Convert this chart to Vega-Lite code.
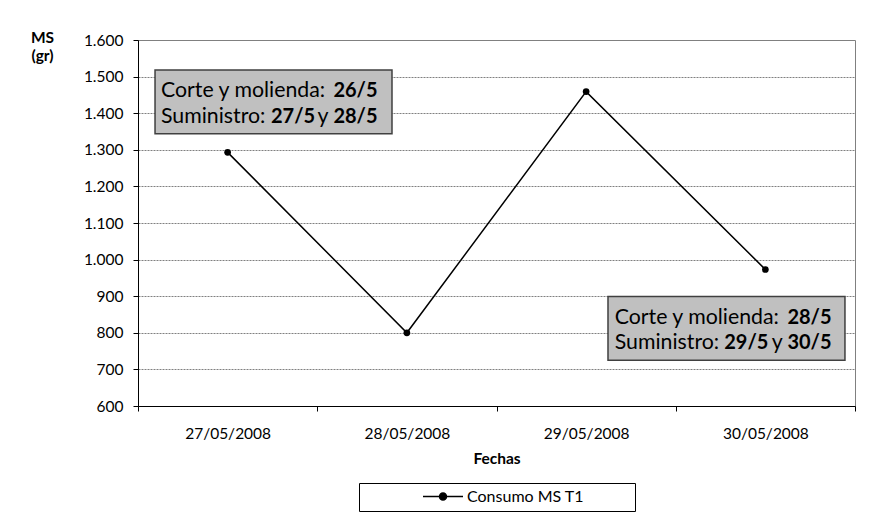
{
  "$schema": "https://vega.github.io/schema/vega-lite/v6.json",
  "width": 717,
  "height": 366,
  "autosize": {"type": "none"},
  "padding": {"left": 138, "top": 40, "right": 35, "bottom": 115},
  "background": "white",
  "config": {
    "font": "Lato",
    "view": {"stroke": "#808080", "strokeWidth": 1},
    "axis": {"labelFont": "Lato", "titleFont": "Lato", "labelColor": "#000000", "titleColor": "#000000", "domainColor": "#000000", "tickColor": "#000000", "labelFontSize": 15.5}
  },
  "datasets": {
    "consumo": [
      {"fecha": "27/05/2008", "ms": 1293, "serie": "Consumo MS T1"},
      {"fecha": "28/05/2008", "ms": 800, "serie": "Consumo MS T1"},
      {"fecha": "29/05/2008", "ms": 1459, "serie": "Consumo MS T1"},
      {"fecha": "30/05/2008", "ms": 973, "serie": "Consumo MS T1"}
    ],
    "cajas": [
      {"caja": 1, "desde": "27/05/2008", "hasta": "28/05/2008", "arriba": 1518, "abajo": 1344},
      {"caja": 2, "desde": "29/05/2008", "hasta": "30/05/2008", "arriba": 899, "abajo": 725}
    ],
    "textos": [
      {"caja": 1, "fecha": "27/05/2008", "ms": 1445, "parte": "etiqueta", "texto": "Corte y molienda:"},
      {"caja": 1, "fecha": "27/05/2008", "ms": 1445, "parte": "fin", "texto": "26/5"},
      {"caja": 1, "fecha": "27/05/2008", "ms": 1374, "parte": "etiqueta", "texto": "Suministro:"},
      {"caja": 1, "fecha": "27/05/2008", "ms": 1374, "parte": "inicio", "texto": "27/5"},
      {"caja": 1, "fecha": "27/05/2008", "ms": 1374, "parte": "y", "texto": "y"},
      {"caja": 1, "fecha": "27/05/2008", "ms": 1374, "parte": "fin", "texto": "28/5"},
      {"caja": 2, "fecha": "30/05/2008", "ms": 823, "parte": "etiqueta", "texto": "Corte y molienda:"},
      {"caja": 2, "fecha": "30/05/2008", "ms": 823, "parte": "fin", "texto": "28/5"},
      {"caja": 2, "fecha": "30/05/2008", "ms": 755, "parte": "etiqueta", "texto": "Suministro:"},
      {"caja": 2, "fecha": "30/05/2008", "ms": 755, "parte": "inicio", "texto": "29/5"},
      {"caja": 2, "fecha": "30/05/2008", "ms": 755, "parte": "y", "texto": "y"},
      {"caja": 2, "fecha": "30/05/2008", "ms": 755, "parte": "fin", "texto": "30/5"}
    ]
  },
  "layer": [
    {
      "data": {"name": "consumo"},
      "mark": {"type": "line", "color": "#000000", "strokeWidth": 1.5, "point": {"filled": true, "size": 45, "color": "#000000"}},
      "encoding": {
        "x": {
          "field": "fecha", "type": "nominal", "bandPosition": 0.5, "title": "Fechas",
          "scale": {"type": "band", "domain": ["27/05/2008", "28/05/2008", "29/05/2008", "30/05/2008"], "paddingInner": 0, "paddingOuter": 0},
          "axis": {"tickBand": "extent", "labelAngle": 0, "labelPadding": 22, "labelBaseline": "middle", "tickSize": 5, "grid": false, "titleFontSize": 15.5, "titleFontWeight": "bold", "titleY": 57, "titleBaseline": "alphabetic"}
        },
        "y": {
          "field": "ms", "type": "quantitative", "title": ["MS", "(gr)"],
          "scale": {"domain": [600, 1600], "nice": false, "zero": false},
          "axis": {"tickCount": 10, "labelOverlap": false, "labelExpr": "replace(format(datum.value, ',d'), ',', '.')", "tickSize": 5, "labelPadding": 10, "grid": true, "gridColor": "#808080", "gridDash": [2, 1], "titleAngle": 0, "titleX": -96, "titleY": 2, "titleAlign": "center", "titleBaseline": "alphabetic", "titleFontSize": 15.5, "titleFontWeight": "bold", "titleLineHeight": 18}
        },
        "color": {
          "field": "serie", "type": "nominal", "scale": {"range": ["#000000"]},
          "legend": {"title": "\u00a0", "titleOrient": "right", "titlePadding": 45, "titleFontSize": 16, "orient": "none", "legendX": 221, "legendY": 443, "direction": "horizontal", "strokeColor": "#000000", "fillColor": "white", "padding": 6, "clipHeight": 15, "symbolType": "M-1,0L1,0M0.175,0A0.175,0.175,0,1,1,-0.175,0A0.175,0.175,0,1,1,0.175,0Z", "symbolSize": 1600, "symbolStrokeWidth": 1.5, "symbolStrokeColor": "#000000", "symbolFillColor": "#000000", "symbolOffset": 57, "labelFontSize": 16, "labelFont": "Lato", "labelColor": "#000000", "labelOffset": 3, "labelLimit": 400}
        }
      }
    },
    {
      "data": {"name": "cajas"},
      "transform": [{"filter": "datum.caja == 1"}],
      "mark": {"type": "rect", "fill": "#c0c0c0", "stroke": "#404040", "strokeWidth": 1.5},
      "encoding": {
        "x": {"field": "desde", "type": "nominal", "bandPosition": 0.095, "title": "Fechas"},
        "x2": {"field": "hasta", "bandPosition": 0.417},
        "y": {"field": "arriba", "type": "quantitative", "title": ["MS", "(gr)"]},
        "y2": {"field": "abajo"}
      }
    },
    {
      "data": {"name": "cajas"},
      "transform": [{"filter": "datum.caja == 2"}],
      "mark": {"type": "rect", "fill": "#c0c0c0", "stroke": "#404040", "strokeWidth": 1.5},
      "encoding": {
        "x": {"field": "desde", "type": "nominal", "bandPosition": 0.622, "title": "Fechas"},
        "x2": {"field": "hasta", "bandPosition": 0.944},
        "y": {"field": "arriba", "type": "quantitative", "title": ["MS", "(gr)"]},
        "y2": {"field": "abajo"}
      }
    },
    {
      "data": {"name": "textos"},
      "transform": [{"filter": "datum.caja == 1 && datum.parte == 'etiqueta'"}],
      "mark": {"type": "text", "align": "left", "baseline": "alphabetic", "dx": 23, "fontSize": 21.3, "font": "Lato", "color": "#000000"},
      "encoding": {"x": {"field": "fecha", "type": "nominal", "bandPosition": 0, "title": "Fechas"}, "y": {"field": "ms", "type": "quantitative", "title": ["MS", "(gr)"]}, "text": {"field": "texto"}}
    },
    {
      "data": {"name": "textos"},
      "transform": [{"filter": "datum.caja == 1 && datum.parte == 'fin'"}],
      "mark": {"type": "text", "align": "right", "baseline": "alphabetic", "dx": 239.5, "fontSize": 20, "fontWeight": "bold", "font": "Lato", "color": "#000000"},
      "encoding": {"x": {"field": "fecha", "type": "nominal", "bandPosition": 0, "title": "Fechas"}, "y": {"field": "ms", "type": "quantitative", "title": ["MS", "(gr)"]}, "text": {"field": "texto"}}
    },
    {
      "data": {"name": "textos"},
      "transform": [{"filter": "datum.caja == 1 && datum.parte == 'inicio'"}],
      "mark": {"type": "text", "align": "left", "baseline": "alphabetic", "dx": 133, "fontSize": 20, "fontWeight": "bold", "font": "Lato", "color": "#000000"},
      "encoding": {"x": {"field": "fecha", "type": "nominal", "bandPosition": 0, "title": "Fechas"}, "y": {"field": "ms", "type": "quantitative", "title": ["MS", "(gr)"]}, "text": {"field": "texto"}}
    },
    {
      "data": {"name": "textos"},
      "transform": [{"filter": "datum.caja == 1 && datum.parte == 'y'"}],
      "mark": {"type": "text", "align": "center", "baseline": "alphabetic", "dx": 185, "fontSize": 21.3, "font": "Lato", "color": "#000000"},
      "encoding": {"x": {"field": "fecha", "type": "nominal", "bandPosition": 0, "title": "Fechas"}, "y": {"field": "ms", "type": "quantitative", "title": ["MS", "(gr)"]}, "text": {"field": "texto"}}
    },
    {
      "data": {"name": "textos"},
      "transform": [{"filter": "datum.caja == 2 && datum.parte == 'etiqueta'"}],
      "mark": {"type": "text", "align": "left", "baseline": "alphabetic", "dx": -61, "fontSize": 21.3, "font": "Lato", "color": "#000000"},
      "encoding": {"x": {"field": "fecha", "type": "nominal", "bandPosition": 0, "title": "Fechas"}, "y": {"field": "ms", "type": "quantitative", "title": ["MS", "(gr)"]}, "text": {"field": "texto"}}
    },
    {
      "data": {"name": "textos"},
      "transform": [{"filter": "datum.caja == 2 && datum.parte == 'fin'"}],
      "mark": {"type": "text", "align": "right", "baseline": "alphabetic", "dx": 155.75, "fontSize": 20, "fontWeight": "bold", "font": "Lato", "color": "#000000"},
      "encoding": {"x": {"field": "fecha", "type": "nominal", "bandPosition": 0, "title": "Fechas"}, "y": {"field": "ms", "type": "quantitative", "title": ["MS", "(gr)"]}, "text": {"field": "texto"}}
    },
    {
      "data": {"name": "textos"},
      "transform": [{"filter": "datum.caja == 2 && datum.parte == 'inicio'"}],
      "mark": {"type": "text", "align": "left", "baseline": "alphabetic", "dx": 48.5, "fontSize": 20, "fontWeight": "bold", "font": "Lato", "color": "#000000"},
      "encoding": {"x": {"field": "fecha", "type": "nominal", "bandPosition": 0, "title": "Fechas"}, "y": {"field": "ms", "type": "quantitative", "title": ["MS", "(gr)"]}, "text": {"field": "texto"}}
    },
    {
      "data": {"name": "textos"},
      "transform": [{"filter": "datum.caja == 2 && datum.parte == 'y'"}],
      "mark": {"type": "text", "align": "center", "baseline": "alphabetic", "dx": 101.5, "fontSize": 21.3, "font": "Lato", "color": "#000000"},
      "encoding": {"x": {"field": "fecha", "type": "nominal", "bandPosition": 0, "title": "Fechas"}, "y": {"field": "ms", "type": "quantitative", "title": ["MS", "(gr)"]}, "text": {"field": "texto"}}
    }
  ]
}
